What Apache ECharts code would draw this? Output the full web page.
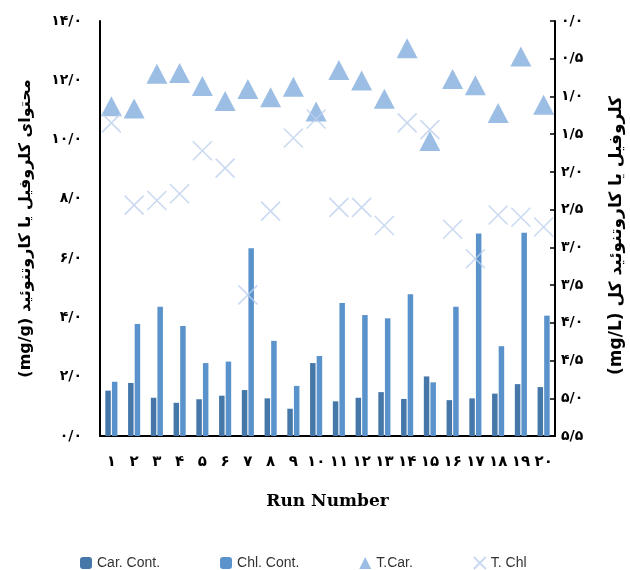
<!DOCTYPE html>
<html>
<head>
<meta charset="utf-8">
<script src="https://cdn.jsdelivr.net/npm/echarts@6/dist/echarts.min.js"></script>
<style>
  html, body { margin: 0; padding: 0; background: #fff; }
  #chart { width: 630px; height: 570px; }
</style>
</head>
<body>
<div id="chart"></div>
<script>
// Run numbers (Persian digits)
const runs = ['۱','۲','۳','۴','۵','۶','۷','۸','۹','۱۰','۱۱','۱۲','۱۳','۱۴','۱۵','۱۶','۱۷','۱۸','۱۹','۲۰'];

// Content per run, mg/g (left axis)
const carCont = [1.53, 1.79, 1.29, 1.12, 1.24, 1.36, 1.55, 1.27, 0.92, 2.46, 1.17, 1.29, 1.48, 1.25, 2.01, 1.21, 1.27, 1.43, 1.75, 1.65];
const chlCont = [1.83, 3.78, 4.36, 3.71, 2.46, 2.51, 6.33, 3.21, 1.69, 2.70, 4.49, 4.08, 3.97, 4.78, 1.81, 4.36, 6.83, 3.03, 6.86, 4.06];

// Totals per run, mg/L (right axis, inverted)
const tCar = [1.13, 1.16, 0.70, 0.69, 0.86, 1.06, 0.90, 1.01, 0.87, 1.20, 0.65, 0.79, 1.03, 0.36, 1.59, 0.77, 0.85, 1.22, 0.47, 1.11];
const tChl = [1.35, 2.44, 2.38, 2.29, 1.72, 1.95, 3.63, 2.52, 1.55, 1.30, 2.47, 2.47, 2.71, 1.35, 1.44, 2.76, 3.15, 2.57, 2.60, 2.73];

// Axis tick labels
const leftTicks = ['۰/۰','۲/۰','۴/۰','۶/۰','۸/۰','۱۰/۰','۱۲/۰','۱۴/۰'];
const rightTicks = ['۰/۰','۰/۵','۱/۰','۱/۵','۲/۰','۲/۵','۳/۰','۳/۵','۴/۰','۴/۵','۵/۰','۵/۵'];

const seriesNames = ['Car. Cont.', 'Chl. Cont.', 'T.Car.', 'T. Chl'];

const leftTitle = '(mg/g) محتوای کلروفیل یا کاروتنوئید';
const rightTitle = '(mg/L) کلروفیل یا کاروتنوئید کل';
const xTitle = 'Run Number';

const crossPath = 'path://M0,0L10,10M10,0L0,10';
const labelFont = 'DejaVu Sans';

const chart = echarts.init(document.getElementById('chart'), null, { renderer: 'canvas' });

chart.setOption({
  animation: false,
  backgroundColor: '#ffffff',
  grid: { left: 100, right: 75, top: 21, bottom: 134, outerBoundsMode: 'none', containLabel: false },
  legend: {
    data: seriesNames,
    left: 75,
    top: 551,
    itemGap: 60,
    itemWidth: 12,
    itemHeight: 12,
    textStyle: { fontFamily: 'Liberation Sans', fontSize: 14, color: '#333' }
  },
  xAxis: {
    type: 'category',
    data: runs,
    axisLine: { lineStyle: { color: '#000', width: 2 } },
    axisTick: { show: false },
    axisLabel: {
      interval: 0, margin: 19, color: '#000',
      fontFamily: labelFont, fontWeight: 'bold', fontSize: 15
    },
    name: xTitle,
    nameLocation: 'middle',
    nameGap: 57,
    nameTextStyle: { fontFamily: 'DejaVu Serif', fontWeight: 'bold', fontSize: 17, color: '#000' }
  },
  yAxis: [
    {
      type: 'value',
      min: 0, max: 14, interval: 2,
      splitLine: { show: false },
      axisLine: { show: true, lineStyle: { color: '#000', width: 2 } },
      axisTick: { show: false },
      axisLabel: {
        margin: 18, color: '#000', fontFamily: labelFont, fontWeight: 'bold', fontSize: 14,
        formatter: (v) => leftTicks[Math.round(v / 2)]
      },
      name: leftTitle,
      nameLocation: 'middle',
      nameRotate: 90,
      nameGap: 66,
      nameTextStyle: { fontFamily: labelFont, fontWeight: 'bold', fontSize: 16, color: '#000' }
    },
    {
      type: 'value',
      position: 'right',
      inverse: true,
      min: 0, max: 5.5, interval: 0.5,
      splitLine: { show: false },
      axisLine: { show: true, lineStyle: { color: '#000', width: 2 } },
      axisTick: { show: true, inside: true, length: 5, lineStyle: { color: '#000', width: 1.5 } },
      axisLabel: {
        margin: 6, color: '#000', fontFamily: labelFont, fontWeight: 'bold', fontSize: 14,
        formatter: (v) => rightTicks[Math.round(v / 0.5)]
      },
      name: rightTitle,
      nameLocation: 'middle',
      nameRotate: 90,
      nameGap: 53,
      nameTextStyle: { fontFamily: labelFont, fontWeight: 'bold', fontSize: 17, color: '#000', padding: [0, 14, 0, 0] }
    }
  ],
  series: [
    {
      name: seriesNames[0], type: 'bar', yAxisIndex: 0, data: carCont,
      barWidth: 5.5, barGap: '20%',
      itemStyle: { color: '#4677a9' }
    },
    {
      name: seriesNames[1], type: 'bar', yAxisIndex: 0, data: chlCont,
      barWidth: 5.5, barGap: '20%',
      itemStyle: { color: '#5a93cb' }
    },
    {
      name: seriesNames[2], type: 'scatter', yAxisIndex: 1, data: tCar,
      symbol: 'triangle', symbolSize: [21, 20],
      itemStyle: { color: '#83aedd' }, z: 3
    },
    {
      name: seriesNames[3], type: 'scatter', yAxisIndex: 1, data: tChl,
      symbol: crossPath, symbolSize: 19,
      itemStyle: { color: 'rgba(0,0,0,0)', borderColor: '#bcd0ed', borderWidth: 1.5 }, z: 4
    }
  ]
});
</script>
</body>
</html>
